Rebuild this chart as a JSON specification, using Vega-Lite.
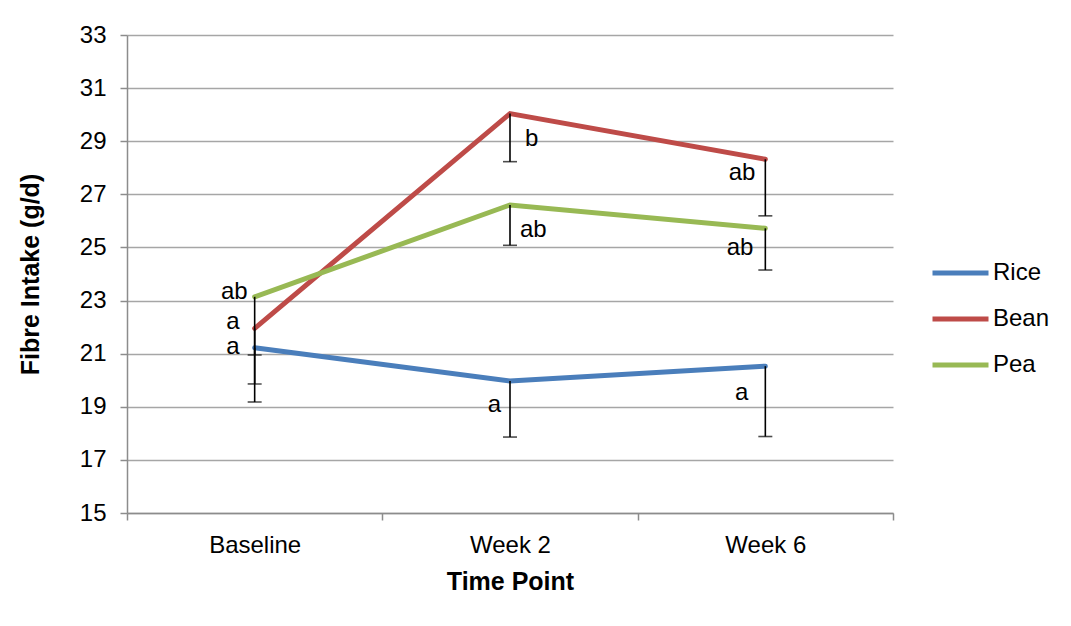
{
  "$schema": "https://vega.github.io/schema/vega-lite/v6.json",
  "width": 766,
  "height": 478,
  "autosize": {"type": "none"},
  "padding": {"left": 127, "top": 35, "right": 178, "bottom": 113},
  "background": "white",
  "config": {
    "font": "Liberation Sans",
    "view": {"stroke": null},
    "axis": {
      "labelFont": "Liberation Sans",
      "labelFontSize": 24,
      "labelColor": "#000000",
      "titleFont": "Liberation Sans",
      "titleFontSize": 25,
      "titleFontWeight": "bold",
      "titleColor": "#000000",
      "domainColor": "#8c8c8c",
      "domainWidth": 1.5,
      "tickColor": "#8c8c8c",
      "tickWidth": 1.5,
      "tickSize": 7,
      "gridColor": "#a6a6a6",
      "gridWidth": 1.3
    },
    "legend": {
      "labelFont": "Liberation Sans",
      "labelFontSize": 24,
      "labelColor": "#000000"
    }
  },
  "data": {
    "values": [
      {"Diet": "Rice", "Time": "Baseline", "Mean": 21.22, "Lower": 19.18, "Letter": "a"},
      {"Diet": "Rice", "Time": "Week 2", "Mean": 19.97, "Lower": 17.86, "Letter": "a"},
      {"Diet": "Rice", "Time": "Week 6", "Mean": 20.53, "Lower": 17.88, "Letter": "a"},
      {"Diet": "Bean", "Time": "Baseline", "Mean": 21.95, "Lower": 19.86, "Letter": "a"},
      {"Diet": "Bean", "Time": "Week 2", "Mean": 30.04, "Lower": 28.23, "Letter": "b"},
      {"Diet": "Bean", "Time": "Week 6", "Mean": 28.32, "Lower": 26.19, "Letter": "ab"},
      {"Diet": "Pea", "Time": "Baseline", "Mean": 23.14, "Lower": 20.95, "Letter": "ab"},
      {"Diet": "Pea", "Time": "Week 2", "Mean": 26.6, "Lower": 25.08, "Letter": "ab"},
      {"Diet": "Pea", "Time": "Week 6", "Mean": 25.72, "Lower": 24.15, "Letter": "ab"}
    ]
  },
  "encoding": {
    "x": {
      "field": "Time",
      "type": "nominal",
      "bandPosition": 0.5,
      "sort": ["Baseline", "Week 2", "Week 6"],
      "scale": {"type": "band", "paddingInner": 0, "paddingOuter": 0},
      "axis": {
        "title": "Time Point",
        "labelAngle": 0,
        "labelPadding": 13,
        "tickBand": "extent",
        "titleY": 68,
        "titleBaseline": "middle",
        "grid": false
      }
    },
    "y": {
      "field": "Mean",
      "type": "quantitative",
      "scale": {"domain": [15, 33], "nice": false, "zero": false},
      "axis": {
        "title": "Fibre Intake (g/d)",
        "values": [15, 17, 19, 21, 23, 25, 27, 29, 31, 33],
        "labelPadding": 14,
        "titleX": -97,
        "titleY": 239,
        "titleBaseline": "middle",
        "grid": true
      }
    }
  },
  "layer": [
    {
      "mark": {"type": "line", "strokeWidth": 5, "strokeCap": "round", "strokeJoin": "miter"},
      "encoding": {
        "color": {
          "field": "Diet",
          "type": "nominal",
          "scale": {"domain": ["Rice", "Bean", "Pea"], "range": ["#4a7ebb", "#be4b48", "#98b954"]},
          "legend": {
            "title": null,
            "orient": "none",
            "legendX": 803,
            "legendY": 218,
            "symbolType": "stroke",
            "symbolSize": 3136,
            "symbolStrokeWidth": 5,
            "clipHeight": 40,
            "rowPadding": 6,
            "labelOffset": 2
          }
        },
        "order": {"field": "Diet", "sort": "ascending"}
      }
    },
    {
      "mark": {"type": "rule", "color": "#000000", "strokeWidth": 1.6},
      "encoding": {"y2": {"field": "Lower"}}
    },
    {
      "mark": {"type": "tick", "color": "#000000", "orient": "horizontal", "size": 14, "thickness": 1.6},
      "encoding": {"y": {"field": "Lower", "type": "quantitative"}}
    },
    {
      "transform": [{"filter": "datum.Time === 'Baseline' && datum.Diet === 'Pea'"}],
      "mark": {"type": "text", "fontSize": 24, "align": "right", "baseline": "middle", "dx": -7, "dy": -5},
      "encoding": {"text": {"field": "Letter"}}
    },
    {
      "transform": [{"filter": "datum.Time === 'Baseline' && datum.Diet === 'Bean'"}],
      "mark": {"type": "text", "fontSize": 24, "align": "right", "baseline": "middle", "dx": -15, "dy": -6},
      "encoding": {"text": {"field": "Letter"}}
    },
    {
      "transform": [{"filter": "datum.Time === 'Baseline' && datum.Diet === 'Rice'"}],
      "mark": {"type": "text", "fontSize": 24, "align": "right", "baseline": "middle", "dx": -15, "dy": -1},
      "encoding": {"text": {"field": "Letter"}}
    },
    {
      "transform": [{"filter": "datum.Time === 'Week 2' && datum.Diet === 'Bean'"}],
      "mark": {"type": "text", "fontSize": 24, "align": "left", "baseline": "middle", "dx": 15, "dy": 25},
      "encoding": {"text": {"field": "Letter"}}
    },
    {
      "transform": [{"filter": "datum.Time === 'Week 2' && datum.Diet === 'Pea'"}],
      "mark": {"type": "text", "fontSize": 24, "align": "left", "baseline": "middle", "dx": 10, "dy": 25},
      "encoding": {"text": {"field": "Letter"}}
    },
    {
      "transform": [{"filter": "datum.Time === 'Week 2' && datum.Diet === 'Rice'"}],
      "mark": {"type": "text", "fontSize": 24, "align": "right", "baseline": "middle", "dx": -9, "dy": 24},
      "encoding": {"text": {"field": "Letter"}}
    },
    {
      "transform": [{"filter": "datum.Time === 'Week 6' && datum.Diet === 'Bean'"}],
      "mark": {"type": "text", "fontSize": 24, "align": "right", "baseline": "middle", "dx": -10, "dy": 14},
      "encoding": {"text": {"field": "Letter"}}
    },
    {
      "transform": [{"filter": "datum.Time === 'Week 6' && datum.Diet === 'Pea'"}],
      "mark": {"type": "text", "fontSize": 24, "align": "right", "baseline": "middle", "dx": -12, "dy": 20},
      "encoding": {"text": {"field": "Letter"}}
    },
    {
      "transform": [{"filter": "datum.Time === 'Week 6' && datum.Diet === 'Rice'"}],
      "mark": {"type": "text", "fontSize": 24, "align": "right", "baseline": "middle", "dx": -17, "dy": 27},
      "encoding": {"text": {"field": "Letter"}}
    }
  ]
}
